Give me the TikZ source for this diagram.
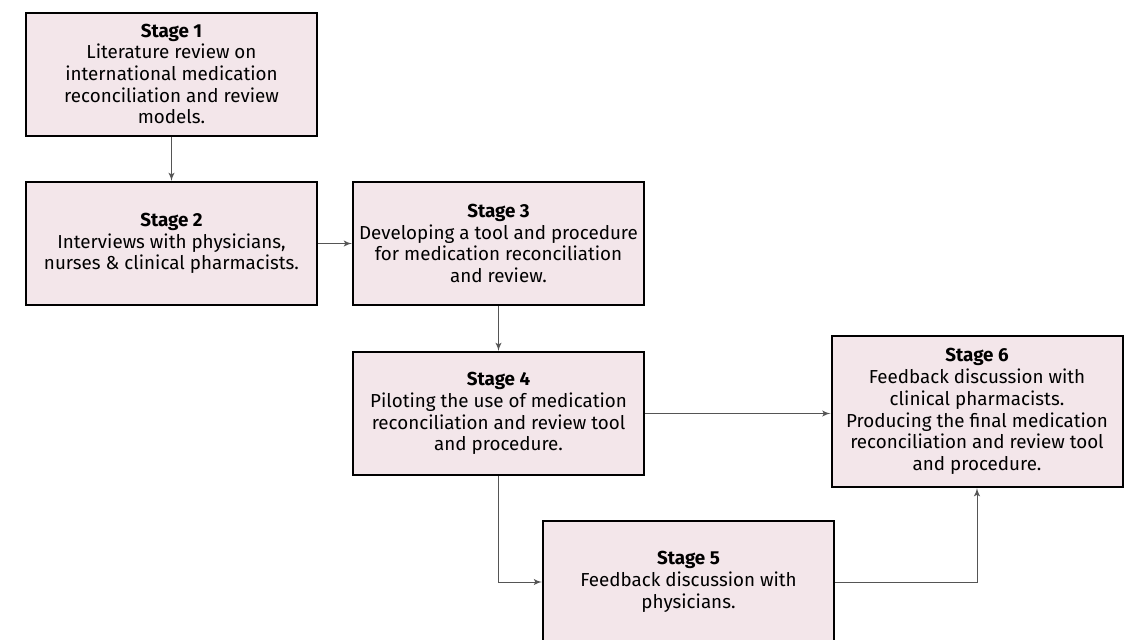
\documentclass[tikz,border=0pt]{standalone}
\usepackage{fontspec}
\setmainfont{Fira Sans}
\usepackage{tikz}
\usetikzlibrary{arrows.meta,arrows}

\definecolor{stagefill}{RGB}{243,230,234}
\definecolor{edgegray}{RGB}{85,85,85}

\begin{document}
\begin{tikzpicture}[x=0.5pt,y=-0.5pt]

\tikzset{stagebox/.style = {shape=rectangle,draw=black,line width=1pt,fill=stagefill,
  minimum width=145.5pt,minimum height=61.5pt,align=center,inner sep=2pt,
  font=\fontsize{9.4}{10.85}\selectfont}}
\tikzset{edge/.style = {->,> = latex',draw=edgegray,line width=0.45pt}}

\useasboundingbox (0,0) rectangle (1131,639);

\node[stagebox] (s1) at (171.5,74) {\textbf{Stage 1}\\Literature review on\\international medication\\reconciliation and review\\models.};
\node[stagebox] (s2) at (171.5,243.5) {\textbf{Stage 2}\\Interviews with physicians,\\nurses \& clinical pharmacists.};
\node[stagebox] (s3) at (498.5,243.5) {\textbf{Stage 3}\\Developing a tool and procedure\\for medication reconciliation\\and review.};
\node[stagebox] (s4) at (498.5,413.5) {\textbf{Stage 4}\\Piloting the use of medication\\reconciliation and review tool\\and procedure.};
\node[stagebox] (s5) at (688.5,582) {\textbf{Stage 5}\\Feedback discussion with\\physicians.};
\tikzset{stagebox/.append style = {minimum height=75.5pt}}
\node[stagebox] (s6) at (977,411.5) {\textbf{Stage 6}\\Feedback discussion with\\clinical pharmacists.\\Producing the final medication\\reconciliation and review tool\\and procedure.};

\draw[edge] (s1) to (s2);
\draw[edge] (s2) to (s3);
\draw[edge] (s3) to (s4);

\draw[edge] (s4.east) to (s4.east -| s6.west);
\draw[edge] (s4.south) |- (s5.west);
\draw[edge] (s5.east) -| (s6.south);

\end{tikzpicture}
\end{document}
